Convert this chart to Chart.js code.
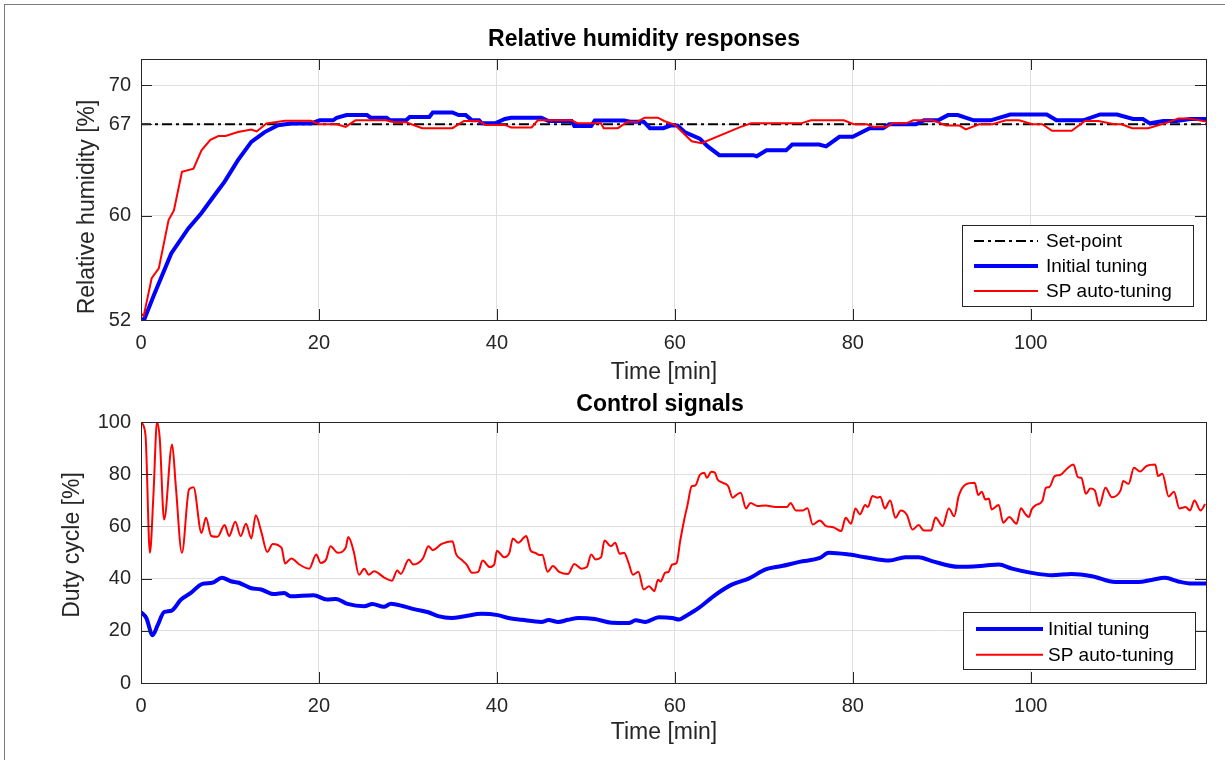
<!DOCTYPE html>
<html>
<head>
<meta charset="utf-8">
<script src="https://cdn.jsdelivr.net/npm/chart.js@4.4.1/dist/chart.umd.min.js"></script>
<style>
  html, body { margin: 0; padding: 0; background: #fff; }
  body { width: 1225px; height: 760px; position: relative; overflow: hidden; }
  .frame { position: absolute; left: 4px; top: 4px; width: 1240px; height: 780px; border: 1px solid #7a7a7a; }
  canvas { position: absolute; left: 0; }
  #rh-chart { top: 0; }
  #duty-chart { top: 380px; }
</style>
</head>
<body>
<div class="frame"></div>
<canvas id="rh-chart" width="1225" height="400"></canvas>
<canvas id="duty-chart" width="1225" height="380"></canvas>
<script>
(function () {
  // time axis [min]
  const timeMax = 119.7;
  const timeTicks = [0, 20, 40, 60, 80, 100];
  const rhTicks = [52, 60, 67, 70];
  const dutyTicks = [0, 20, 40, 60, 80, 100];
  const setPoint = 67;

  // relative humidity, initial tuning
  const rhInitialT = [0, 0.4, 1.5, 3.4, 5.3, 6.8, 8.3, 9.4, 10.9, 12.4, 13.9, 15.4, 16.9, 19.1, 20.1, 21.6, 22, 23.1, 25.4, 25.8,
    27.6, 28, 29.8, 30.2, 32.4, 32.8, 35, 35.7, 36.5, 37.2, 38, 38.3, 39.8, 40.9, 41.6, 45, 45.8, 48.4, 48.7, 50.6,
    51, 54.3, 55, 56.5, 57.2, 58.7, 59.5, 60.3, 61.1, 62.8, 63.7, 65, 68.8, 69.2, 70.3, 72.5, 73.2, 76.2, 77, 78.5,
    80, 81.9, 83.4, 84.1, 87.1, 88, 89.6, 90.7, 91.8, 93.6, 95.5, 97.7, 101.8, 102.9, 105.9, 107.8, 109.7, 111.5, 112.6, 113.4,
    114.9, 116.4, 117.9, 119.7];
  const rhInitialV = [52.0, 52.1, 54.0, 57.1, 59.0, 60.2, 61.6, 62.6, 64.25, 65.65, 66.4, 66.93, 67.06, 67.06, 67.3, 67.3, 67.5, 67.7, 67.7, 67.5,
    67.5, 67.3, 67.3, 67.55, 67.55, 67.9, 67.9, 67.7, 67.7, 67.3, 67.3, 67.07, 67.07, 67.4, 67.5, 67.5, 67.25, 67.25, 66.87, 66.87,
    67.28, 67.28, 67.2, 67.2, 66.7, 66.7, 66.9, 66.9, 66.4, 65.9, 65.3, 64.63, 64.63, 64.55, 65.0, 65.0, 65.45, 65.45, 65.3, 66.04,
    66.04, 66.7, 66.7, 67.0, 67.0, 67.3, 67.3, 67.7, 67.7, 67.3, 67.3, 67.75, 67.75, 67.3, 67.3, 67.75, 67.75, 67.4, 67.4, 67.07,
    67.25, 67.25, 67.4, 67.4];

  // relative humidity, SP auto-tuning
  const rhAutoT = [0, 0.3, 1.2, 2.0, 3.1, 3.7, 4.6, 5.9, 6.8, 7.8, 8.7, 9.5, 10.9, 12.4, 13, 14.1, 16.2, 19.1, 20, 22,
    23, 24.1, 27.5, 28.5, 29.8, 31.6, 35, 36.3, 38, 38.7, 40.9, 41.6, 43.9, 44.6, 48.4, 49.1, 51.7, 52, 53.6, 54.7,
    55.8, 56.6, 58.1, 58.8, 60, 61.9, 63, 67.4, 68.6, 74.2, 75.3, 79, 80.1, 81.6, 82.3, 83.8, 84.5, 86, 86.8, 89,
    90.5, 92, 92.7, 94.2, 95.7, 97.2, 98.7, 100.2, 101.3, 102.4, 104.6, 106.1, 107.6, 109.4, 110.2, 111.4, 113.2, 115.1, 116.6, 117.7,
    119.7];
  const rhAutoV = [52.5, 52.3, 55.2, 55.95, 59.66, 60.4, 63.35, 63.6, 65.0, 65.8, 66.1, 66.1, 66.4, 66.6, 66.45, 67.06, 67.26, 67.26, 67.0, 67.0,
    66.8, 67.3, 67.3, 67.15, 67.15, 66.7, 66.7, 67.25, 67.25, 66.95, 66.95, 66.75, 66.75, 67.3, 67.3, 67.07, 67.07, 66.7, 66.7, 67.2,
    67.2, 67.5, 67.5, 67.25, 66.95, 65.7, 65.55, 66.8, 67.07, 67.07, 67.3, 67.3, 67.0, 67.0, 66.8, 66.8, 67.07, 67.07, 67.3, 67.3,
    66.9, 66.9, 66.6, 67.0, 67.0, 67.3, 67.3, 67.0, 67.0, 66.5, 66.5, 67.25, 67.25, 67.0, 67.0, 66.7, 66.7, 67.07, 67.45, 67.45,
    67.2];

  // duty cycle, initial tuning
  const dutyInitialT = [0, 0.6, 1.3, 1.9, 2.6, 3.4, 4.5, 5.6, 6.9, 8.0, 9.1, 10.1, 11, 12.3, 13.5, 14.9, 16.1, 16.8, 19.4, 20.9,
    21.9, 23.2, 25.1, 26, 27.3, 28.1, 29.5, 30.8, 32.3, 33.4, 34.9, 36.4, 38.3, 40.1, 41.3, 42.8, 45, 45.8, 46.9, 48,
    49.2, 51, 52.9, 54.8, 55.6, 56.7, 58.2, 59.7, 60.5, 61.2, 62.7, 64.6, 66.4, 68.3, 70.2, 72, 74, 76.3, 77.3, 79.6,
    81.4, 84.1, 85.9, 87.4, 88.9, 91.9, 94.9, 96.4, 97.9, 100.1, 102.4, 104.6, 106.9, 109.5, 112.1, 113.6, 115.1, 116.6, 118.1, 119.7];
  const dutyInitialV = [27.2, 24.9, 18.3, 22.4, 27.2, 27.7, 32, 34.5, 38, 38.4, 40.3, 39, 38.4, 36.4, 35.8, 34.1, 34.5, 33.2, 33.6, 32,
    32.2, 30.3, 29.4, 30.3, 29.2, 30.4, 29.4, 28.2, 27.1, 25.6, 24.9, 25.6, 26.5, 26, 24.9, 24.2, 23.4, 24.1, 23.4, 24.2,
    24.9, 24.5, 23.1, 23, 24, 23.4, 25.2, 24.9, 24.3, 25.6, 28.8, 33.9, 37.7, 40, 43.5, 44.8, 46.4, 47.9, 49.9, 49.2,
    48.2, 46.9, 48.2, 48.2, 46.7, 44.5, 45, 45.4, 43.8, 42.2, 41.3, 41.8, 40.9, 38.7, 38.7, 39.5, 40.3, 38.9, 38.1, 38.1];

  // duty cycle, SP auto-tuning
  const dutyAutoT = [0, 0.5, 1.0, 1.4, 1.8, 2.1, 2.6, 3.5, 3.9, 4.6, 5.4, 5.9, 6.8, 7.3, 7.9, 8.6, 9.4, 9.9, 10.6, 11.2,
    11.8, 12.4, 12.9, 13.5, 14.2, 14.8, 15.8, 16.2, 16.9, 17.8, 18.9, 19.7, 20.2, 20.8, 21.3, 22.1, 23, 23.3, 23.9, 24.5,
    25.1, 25.6, 26.2, 27.3, 28.2, 28.8, 29.2, 30.1, 30.6, 31.7, 32.3, 32.8, 33.8, 35, 35.4, 36, 36.6, 37.2, 37.9, 38.4,
    39.2, 39.7, 40, 40.8, 41.4, 41.8, 42.4, 43.3, 43.8, 44.3, 44.8, 45.1, 45.7, 46.3, 47, 48, 48.7, 49.5, 50.1, 50.6,
    51.1, 51.7, 52.1, 52.8, 53.3, 53.8, 54.3, 54.8, 55.3, 55.9, 56.5, 57.1, 57.7, 58.1, 58.4, 58.9, 59.3, 59.7, 60.2, 60.6,
    61.1, 61.4, 61.9, 62.3, 62.8, 63.3, 63.6, 64.1, 64.5, 64.8, 65.4, 66, 66.5, 66.9, 67.4, 68, 68.5, 69.3, 70.2, 71.3,
    72.6, 73, 73.6, 74.4, 74.9, 75.5, 76.3, 77, 77.8, 78.7, 79.2, 79.8, 80.3, 80.8, 81.4, 81.7, 82.2, 82.8, 83.1, 83.6,
    84.2, 84.8, 85.4, 86.1, 86.7, 87.4, 88, 88.8, 89.3, 90.1, 90.8, 91.4, 91.9, 92.7, 93.7, 94.1, 94.5, 94.9, 95.3, 95.6,
    96.4, 96.9, 97.6, 98.4, 98.9, 99.4, 99.8, 100.1, 100.6, 101.3, 101.7, 102.1, 102.7, 103.3, 104.1, 104.8, 105.3, 105.7, 106.2, 106.7,
    107.2, 107.7, 108.4, 109.1, 110.1, 110.4, 111, 111.6, 112.3, 113, 114, 114.3, 114.8, 115.5, 116.1, 116.7, 117.4, 117.9, 118.4, 119.1,
    119.6];
  const dutyAutoV = [100, 95.2, 49.9, 72.2, 100, 94, 62.6, 91.4, 76, 49.9, 74.2, 75, 57.5, 63.3, 56.3, 56, 60.5, 56.3, 61.8, 56.3,
    61, 55.4, 64.3, 58.2, 50.2, 53.3, 51.8, 45.8, 47.7, 45.4, 43.8, 49.2, 46, 47.3, 52.4, 49.9, 51.8, 55.9, 50.5, 41.5,
    43.8, 41.5, 42.8, 40.5, 39.2, 43.1, 41.8, 47.3, 45.4, 47.8, 52.4, 50.9, 53.3, 54.3, 49.5, 47.3, 45.4, 42.2, 42.6, 46.9,
    44.4, 45.4, 50.7, 48.2, 49.9, 55.4, 53.7, 56.3, 50.7, 49.9, 49, 49.1, 42.6, 44.8, 42.6, 41.8, 45.6, 43.8, 44.4, 49.2,
    47.3, 48.1, 54.6, 52.4, 53.7, 49.5, 49.9, 46, 41.5, 42.6, 35.8, 37.1, 35.2, 39.6, 38.9, 42.2, 42.6, 45.4, 46, 54.4,
    63.3, 67.8, 75.4, 75.7, 79.7, 80.6, 78.6, 80.9, 80.6, 78, 76.7, 75.4, 71, 72, 72.9, 66.9, 69, 67.8, 68, 67.4,
    67.4, 69, 66.1, 66.1, 67, 60.7, 62.3, 60.1, 59.7, 58.2, 63.3, 61, 66.9, 64.6, 68.2, 67.4, 71.6, 71, 71.4, 66.9,
    69.9, 63.3, 66.1, 64.3, 58.8, 60.5, 58.4, 58.4, 63.4, 60.1, 66.9, 63.9, 71.6, 76.1, 76.7, 72, 73.3, 70.3, 70.7, 66.5,
    68.2, 61.4, 63.6, 61, 67, 64.7, 63.6, 66.5, 68.2, 69.7, 74.8, 75.1, 79.3, 79.7, 82.2, 83.7, 78.9, 78.6, 72.5, 74.5,
    73.8, 67.8, 74.8, 71.2, 73.8, 77.4, 76.3, 82.5, 81, 83.1, 83.7, 79.3, 80.2, 71.5, 73.3, 66.9, 67.4, 66.1, 69.9, 66.1,
    68.6];

  const fontFamily = '"Liberation Sans", Arial, Helvetica, sans-serif';
  const axisColor = '#262626';
  const gridColor = '#dfdfdf';

  function toPoints(ts, vs) {
    return ts.map((t, i) => ({ x: t, y: vs[i] }));
  }

  // MATLAB-like decorations: box, inner ticks, titles, legend
  const matlabFrame = {
    id: 'matlabFrame',
    afterDraw(chart, args, opts) {
      const { ctx, chartArea: a, scales } = chart;
      ctx.save();
      ctx.strokeStyle = axisColor;
      ctx.lineWidth = 1;
      ctx.beginPath();
      scales.x.ticks.forEach((t) => {
        const px = Math.round(scales.x.getPixelForValue(t.value)) + 0.5;
        ctx.moveTo(px, a.top); ctx.lineTo(px, a.top + 11);
        ctx.moveTo(px, a.bottom); ctx.lineTo(px, a.bottom - 11);
      });
      scales.y.ticks.forEach((t) => {
        const py = Math.round(scales.y.getPixelForValue(t.value)) + 0.5;
        ctx.moveTo(a.left, py); ctx.lineTo(a.left + 11, py);
        ctx.moveTo(a.right, py); ctx.lineTo(a.right - 11, py);
      });
      ctx.stroke();
      ctx.strokeRect(Math.round(a.left) + 0.5, Math.round(a.top) + 0.5, Math.round(a.width), Math.round(a.height));

      // titles
      ctx.fillStyle = '#000';
      ctx.textAlign = 'center';
      ctx.textBaseline = 'middle';
      ctx.font = 'bold 23px ' + fontFamily;
      ctx.fillText(opts.title.text, opts.title.x, opts.title.y);
      ctx.fillStyle = axisColor;
      ctx.font = '23px ' + fontFamily;
      ctx.fillText(opts.xLabel.text, opts.xLabel.x, opts.xLabel.y);
      ctx.save();
      ctx.translate(opts.yLabel.x, opts.yLabel.y);
      ctx.rotate(-Math.PI / 2);
      ctx.fillText(opts.yLabel.text, 0, 0);
      ctx.restore();

      // legend
      const lg = opts.legend;
      const items = chart.data.datasets.filter((d) => d.label);
      ctx.fillStyle = '#fff';
      ctx.fillRect(lg.left, lg.top, lg.width, lg.height);
      ctx.strokeStyle = axisColor;
      ctx.lineWidth = 1;
      ctx.strokeRect(lg.left + 0.5, lg.top + 0.5, lg.width, lg.height);
      ctx.font = '19px ' + fontFamily;
      ctx.textAlign = 'left';
      items.forEach((d, i) => {
        const y = lg.firstRow + i * lg.rowGap;
        ctx.strokeStyle = d.borderColor;
        ctx.lineWidth = d.borderWidth;
        ctx.setLineDash(d.borderDash || []);
        ctx.beginPath();
        ctx.moveTo(lg.lineFrom, y);
        ctx.lineTo(lg.lineTo, y);
        ctx.stroke();
        ctx.setLineDash([]);
        ctx.fillStyle = '#000';
        ctx.fillText(d.label, lg.textX, y + 1);
      });
      ctx.restore();
    },
  };

  function xScale(height) {
    return {
      type: 'linear',
      min: 0,
      max: timeMax,
      afterBuildTicks: (s) => { s.ticks = timeTicks.map((v) => ({ value: v })); },
      afterFit: (s) => { s.height = height; },
      grid: { color: gridColor, drawTicks: false },
      border: { display: false },
      ticks: { color: axisColor, font: { family: fontFamily, size: 20 }, padding: 11, maxRotation: 0 },
    };
  }

  function yScale(min, max, tickValues) {
    return {
      type: 'linear',
      min: min,
      max: max,
      afterBuildTicks: (s) => { s.ticks = tickValues.map((v) => ({ value: v })); },
      afterFit: (s) => { s.width = 141; },
      grid: { color: gridColor, drawTicks: false },
      border: { display: false },
      ticks: { color: axisColor, font: { family: fontFamily, size: 20 }, padding: 10 },
    };
  }

  const common = {
    responsive: false,
    animation: false,
    events: [],
    plugins: { legend: { display: false }, tooltip: { enabled: false } },
    elements: { point: { radius: 0 } },
  };

  new Chart(document.getElementById('rh-chart'), {
    type: 'line',
    data: {
      datasets: [
        {
          label: 'Set-point',
          data: [{ x: 0, y: setPoint }, { x: timeMax, y: setPoint }],
          borderColor: '#000000',
          borderWidth: 2,
          borderDash: [10, 4, 3, 4],
          order: 2,
        },
        {
          label: 'Initial tuning',
          data: toPoints(rhInitialT, rhInitialV),
          borderColor: '#0000ff',
          borderWidth: 4,
          order: 1,
        },
        {
          label: 'SP auto-tuning',
          data: toPoints(rhAutoT, rhAutoV),
          borderColor: '#ff0000',
          borderWidth: 2,
          order: 0,
        },
      ],
    },
    options: {
      ...common,
      layout: { padding: { top: 59, left: 0, right: 19, bottom: 0 } },
      scales: { x: xScale(80), y: yScale(52, 72, rhTicks) },
      plugins: {
        ...common.plugins,
        matlabFrame: {
          title: { text: 'Relative humidity responses', x: 644, y: 40 },
          xLabel: { text: 'Time [min]', x: 664, y: 373 },
          yLabel: { text: 'Relative humidity [%]', x: 88, y: 207 },
          legend: { left: 962, top: 225, width: 231, height: 81, firstRow: 241, rowGap: 25, lineFrom: 974, lineTo: 1038, textX: 1046 },
        },
      },
    },
    plugins: [matlabFrame],
  });

  new Chart(document.getElementById('duty-chart'), {
    type: 'line',
    data: {
      datasets: [
        {
          label: 'Initial tuning',
          data: toPoints(dutyInitialT, dutyInitialV),
          borderColor: '#0000ff',
          borderWidth: 4,
          cubicInterpolationMode: 'monotone',
          order: 1,
        },
        {
          label: 'SP auto-tuning',
          data: toPoints(dutyAutoT, dutyAutoV),
          borderColor: '#ff0000',
          borderWidth: 2,
          cubicInterpolationMode: 'monotone',
          order: 0,
        },
      ],
    },
    options: {
      ...common,
      layout: { padding: { top: 42, left: 0, right: 19, bottom: 0 } },
      scales: { x: xScale(77), y: yScale(0, 100, dutyTicks) },
      plugins: {
        ...common.plugins,
        matlabFrame: {
          title: { text: 'Control signals', x: 660, y: 25 },
          xLabel: { text: 'Time [min]', x: 664, y: 353 },
          yLabel: { text: 'Duty cycle [%]', x: 73, y: 165 },
          legend: { left: 963, top: 232, width: 232, height: 57, firstRow: 249, rowGap: 25.7, lineFrom: 976, lineTo: 1043, textX: 1048 },
        },
      },
    },
    plugins: [matlabFrame],
  });
})();
</script>
</body>
</html>
